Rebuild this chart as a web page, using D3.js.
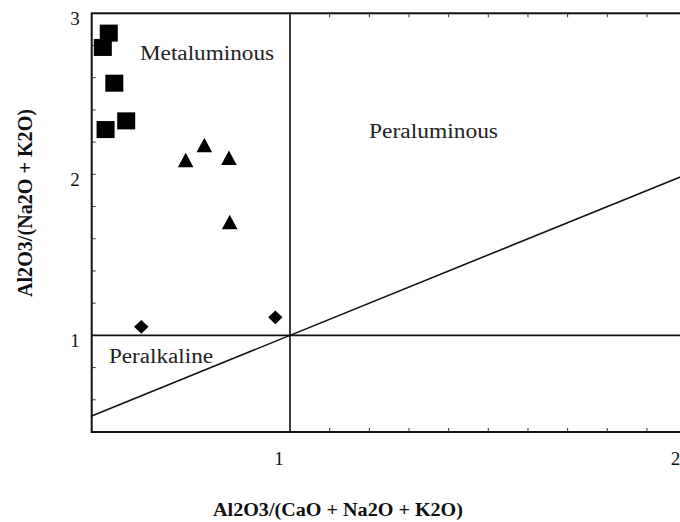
<!DOCTYPE html>
<html><head><meta charset="utf-8">
<script src="https://cdn.jsdelivr.net/npm/d3@7"></script>
<style>body{margin:0;background:#fff}svg{display:block}</style>
</head><body>
<svg id="c" width="680" height="522"></svg>
<script>
// Data
const squaresX = [0.543, 0.528, 0.557, 0.535, 0.587];
const squaresY = [2.877, 2.788, 2.566, 2.278, 2.332];
const trianglesX = [0.737, 0.784, 0.846, 0.848];
const trianglesY = [2.087, 2.180, 2.101, 1.702];
const diamondsX = [0.625, 0.963];
const diamondsY = [1.053, 1.112];
const xTickLabels = [1, 2];
const yTickLabels = [1, 2, 3];
const xMinorTicks = [1.1, 1.2, 1.3, 1.4, 1.5, 1.6, 1.7, 1.8, 1.9];
const yMinorTicks = [0.6, 0.8, 1, 1.2, 1.4, 1.6, 1.8, 2, 2.2, 2.4, 2.6, 2.8];
const regionLabels = ["Metaluminous", "Peraluminous", "Peralkaline"];
const xTitle = "Al2O3/(CaO + Na2O + K2O)";
const yTitle = "Al2O3/(Na2O + K2O)";

const svg = d3.select("#c");
const x = d3.scaleLinear().domain([0.5, 2]).range([91.7, 686.6]);
const y = d3.scaleLinear().domain([0.4, 3]).range([432, 13.3]);
const ink = "#111";
const font = "'Liberation Serif','Times New Roman',serif";

// frame
svg.append("rect").attr("x", x(0.5)).attr("y", y(3))
  .attr("width", x(2) - x(0.5)).attr("height", y(0.4) - y(3))
  .attr("fill", "none").attr("stroke", ink).attr("stroke-width", 2);

// ticks (inward)
const tg = svg.append("g").attr("stroke", "#333").attr("stroke-width", 1);
tg.selectAll(".yt").data(yMinorTicks).join("line")
  .attr("x1", x(0.5)).attr("x2", x(0.5) + 4)
  .attr("y1", d => y(d)).attr("y2", d => y(d));
tg.selectAll(".xb").data(xMinorTicks).join("line")
  .attr("x1", d => x(d)).attr("x2", d => x(d))
  .attr("y1", y(0.4)).attr("y2", y(0.4) - 4);
tg.selectAll(".xt").data(xMinorTicks).join("line")
  .attr("x1", d => x(d)).attr("x2", d => x(d))
  .attr("y1", y(3)).attr("y2", y(3) + 4);

// division lines
const lg = svg.append("g").attr("stroke", ink).attr("stroke-width", 1.6).attr("fill", "none");
lg.append("line").attr("x1", x(1)).attr("x2", x(1)).attr("y1", y(0.4)).attr("y2", y(3));
lg.append("line").attr("x1", x(0.5)).attr("x2", x(2)).attr("y1", y(1)).attr("y2", y(1));
lg.append("line").attr("x1", x(0.5)).attr("x2", x(2)).attr("y1", y(0.5)).attr("y2", y(2));

// tick labels
svg.selectAll(".xl").data(xTickLabels).join("text")
  .attr("x", d => x(d) - 11).attr("y", 465)
  .attr("text-anchor", "middle").attr("font-family", font).attr("font-size", 19)
  .attr("fill", ink).text(d => d);
svg.selectAll(".yl").data(yTickLabels).join("text")
  .attr("x", 75).attr("y", d => y(d) + 12)
  .attr("text-anchor", "middle").attr("font-family", font).attr("font-size", 19)
  .attr("fill", ink).text(d => d);

// region labels
const regPos = [[140, 60, 134], [369, 138, 129], [109, 362.5, 104]];
svg.selectAll(".rl").data(regionLabels).join("text")
  .attr("x", (d, i) => regPos[i][0]).attr("y", (d, i) => regPos[i][1])
  .attr("textLength", (d, i) => regPos[i][2]).attr("lengthAdjust", "spacingAndGlyphs")
  .attr("font-family", font).attr("font-size", 20).attr("fill", "#222").text(d => d);

// axis titles
svg.append("text").attr("x", 213).attr("y", 516)
  .attr("textLength", 250).attr("lengthAdjust", "spacingAndGlyphs")
  .attr("font-family", font).attr("font-weight", "bold").attr("font-size", 18)
  .attr("fill", ink).text(xTitle);
svg.append("text").attr("transform", "translate(32,297) rotate(-90) scale(1,1.15)")
  .attr("x", 0).attr("y", 0)
  .attr("textLength", 188).attr("lengthAdjust", "spacingAndGlyphs")
  .attr("font-family", font).attr("font-weight", "bold").attr("font-size", 19)
  .attr("fill", ink).text(yTitle);

// markers
const sq = d3.range(squaresX.length).map(i => [squaresX[i], squaresY[i]]);
svg.selectAll(".sq").data(sq).join("rect")
  .attr("x", d => x(d[0]) - 9).attr("y", d => y(d[1]) - 8.5)
  .attr("width", 18).attr("height", 17).attr("fill", "#000");

const tr = d3.range(trianglesX.length).map(i => [trianglesX[i], trianglesY[i]]);
svg.selectAll(".tr").data(tr).join("path")
  .attr("transform", d => `translate(${x(d[0])},${y(d[1])})`)
  .attr("d", "M0,-7.5L7.8,7L-7.8,7Z").attr("fill", "#000");

const dm = d3.range(diamondsX.length).map(i => [diamondsX[i], diamondsY[i]]);
svg.selectAll(".dm").data(dm).join("path")
  .attr("transform", d => `translate(${x(d[0])},${y(d[1])})`)
  .attr("d", "M0,-6.8L7.2,0L0,6.8L-7.2,0Z").attr("fill", "#000");
</script>
</body></html>
